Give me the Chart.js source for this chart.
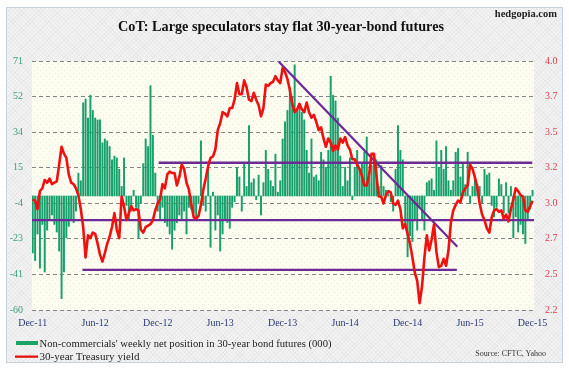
<!DOCTYPE html>
<html><head><meta charset="utf-8">
<script src="https://cdn.jsdelivr.net/npm/chart.js@4.4.0/dist/chart.umd.min.js"></script>
<style>
html,body{margin:0;padding:0;background:#fff;}
#wrap{position:relative;width:569px;height:370px;overflow:hidden;background:#fff;}
#frame{position:absolute;left:6px;top:7px;width:557px;height:356px;box-sizing:border-box;border:1px solid #c6d2de;
 background-color:#f3f3f3;
 background-image:repeating-linear-gradient(45deg,rgba(0,0,0,0.03) 0 1px,transparent 1px 3px),repeating-linear-gradient(-45deg,rgba(0,0,0,0.03) 0 1px,transparent 1px 3px);}
#c{position:absolute;left:0;top:0;}
#txt{position:absolute;left:0;top:0;}
#txt text{font-family:"Liberation Serif","Times New Roman",serif;}
</style></head><body>
<div id="wrap">
<div id="frame"></div>
<canvas id="c" width="569" height="370"></canvas>
<svg id="txt" width="569" height="370" xmlns="http://www.w3.org/2000/svg">
 <text x="281" y="31" text-anchor="middle" font-size="14" font-weight="bold" fill="#111" textLength="326" lengthAdjust="spacingAndGlyphs">CoT: Large speculators stay flat 30-year-bond futures</text>
 <text x="557" y="17" text-anchor="end" font-size="10.5" font-weight="bold" fill="#222">hedgopia.com</text>
 <rect x="16" y="341" width="22" height="4" fill="#1ca465"/>
 <text x="39.5" y="347" font-size="10.5" fill="#222" textLength="292" lengthAdjust="spacingAndGlyphs">Non-commercials' weekly net position in 30-year bond futures (000)</text>
 <rect x="15" y="355.5" width="23" height="2.3" fill="#e51010"/>
 <text x="39.5" y="359.5" font-size="10.5" fill="#222" textLength="100" lengthAdjust="spacingAndGlyphs">30-year Treasury yield</text>
 <text x="546" y="356" text-anchor="end" font-size="8" fill="#333">Source: CFTC, Yahoo</text>
</svg>
</div>
<script>
// X-axis tick labels (every 26 weeks)
const tickLabels = ['Dec-11','Jun-12','Dec-12','Jun-13','Dec-13','Jun-14','Dec-14','Jun-15','Dec-15'];
const weeksPerTick = 26;
// Left axis (net position, 000 contracts) tick labels, bottom to top
const leftTicks = [-60,-41,-23,-4,15,34,52,71];
// Right axis (yield, %) tick labels, bottom to top
const rightTicks = ['2.2','2.5','2.7','3.0','3.2','3.5','3.7','4.0'];

// Non-commercials' weekly net position in 30-year bond futures (000), weekly from Dec-11
const netPosition = [
 -30,-34,-20,-38,-15,-40,-18,-12,-10,-15,
 -19,-29,-54,-40,-22,-16,-12,-14,-8,12,
 8,49,51,41,53,45,41,40,40,28,
 30,29,26,19,21,20,14,5,20,-5,
 -12,-8,3,-6,-22,-4,17,30,26,58,
 32,12,-8,-12,-6,-14,-16,-20,-28,-18,
 -14,-10,-12,-8,-20,-6,-7,-9,-11,-4,
 29,-5,-8,14,-27,2,-18,-10,-29,-20,
 -12,-14,-17,-6,-3,15,10,-8,17,5,
 37,7,9,-2,11,-10,7,24,14,8,
 5,22,2,8,30,39,45,57,52,69,
 45,48,44,40,24,12,30,10,11,8,
 23,19,15,24,63,53,50,41,21,5,
 15,8,20,-2,15,24,14,17,23,31,
 10,16,17,19,5,16,5,3,1,-3,
 -8,14,37,24,19,-16,-32,-21,-24,-13,
 -18,-6,-13,-18,7,8,9,3,29,15,
 24,14,26,8,3,8,23,25,10,17,
 6,23,-4,5,10,6,5,-4,14,11,
 12,-5,-11,-6,9,6,-9,7,-9,5,
 -22,-11,-19,-15,-20,-25,-13,-7,3
];

// 30-year Treasury yield (%), weekly
const yields = [
 3.00,2.99,2.93,3.06,3.08,3.14,3.12,3.15,3.11,3.12,
 3.13,3.25,3.38,3.33,3.30,3.18,3.12,3.11,3.08,3.03,
 2.93,2.80,2.58,2.74,2.72,2.76,2.75,2.68,2.60,2.55,
 2.61,2.68,2.73,2.80,2.90,2.78,2.72,3.02,2.95,2.85,
 2.90,2.95,2.92,2.93,2.92,2.78,2.76,2.80,2.81,2.82,
 2.85,2.92,2.97,3.00,3.11,3.08,3.18,3.20,3.19,3.19,
 3.10,3.16,3.25,3.22,3.12,3.07,2.96,2.87,2.86,2.88,
 2.96,3.07,3.15,3.24,3.30,3.31,3.36,3.50,3.55,3.63,
 3.62,3.60,3.66,3.66,3.72,3.84,3.76,3.76,3.86,3.81,
 3.72,3.71,3.77,3.72,3.68,3.60,3.66,3.83,3.82,3.84,
 3.85,3.89,3.86,3.84,3.95,3.92,3.87,3.79,3.69,3.63,
 3.65,3.69,3.65,3.63,3.70,3.63,3.59,3.61,3.56,3.50,
 3.52,3.44,3.38,3.44,3.41,3.35,3.39,3.36,3.44,3.41,
 3.45,3.39,3.36,3.29,3.29,3.25,3.22,3.17,3.10,3.10,
 3.18,3.33,3.33,3.18,3.02,3.02,2.97,3.03,3.06,3.05,
 2.97,2.96,2.99,2.93,2.79,2.82,2.75,2.68,2.58,2.47,
 2.41,2.25,2.37,2.58,2.74,2.63,2.71,2.82,2.62,2.51,
 2.52,2.57,2.52,2.63,2.83,2.92,2.96,2.99,2.98,3.05,
 3.08,3.10,3.25,3.22,3.16,3.09,2.97,2.89,2.85,2.79,
 2.76,2.87,2.92,2.93,2.91,2.92,2.86,2.89,2.84,2.93,
 3.00,3.08,3.06,3.03,3.02,2.92,2.91,2.95,2.99
];

// Trend lines drawn on the chart (week index, yield)
const upperLevelWeeks = [52.4, 207.9];  const upperLevelYield = [3.265, 3.265];
const midLevelWeeks   = [-0.3, 208.6];  const midLevelYield   = [2.85, 2.85];
const lowerLevelWeeks = [20.7, 176.5];  const lowerLevelYield = [2.49, 2.49];
const downTrendWeeks  = [102.4, 176.7]; const downTrendYield  = [3.995, 2.657];

const PURPLE = '#6c2a96';
const toXY = (xs, ys) => xs.map((x,i)=>({x:x, y:ys[i]}));

function makePattern(ctx){
  const p=document.createElement('canvas'); p.width=6; p.height=6;
  const g=p.getContext('2d');
  g.fillStyle='#fcfcf1'; g.fillRect(0,0,6,6);
  g.fillStyle='#f0edc6'; g.fillRect(1,1,1,1); g.fillRect(4,4,1,1);
  return ctx.createPattern(p,'repeat');
}
const bgPlugin = { id:'plotbg', beforeDraw(c){
  const {ctx, chartArea:a} = c; ctx.save();
  ctx.fillStyle = makePattern(ctx);
  ctx.fillRect(a.left, a.top, a.right-a.left, a.bottom-a.top);
  ctx.restore(); } };

const serif = 'Liberation Serif';
const evenTicks = (min,max,n) => s => { s.ticks = Array.from({length:n},(_,k)=>({value: min + k*(max-min)/(n-1)})); };

new Chart(document.getElementById('c').getContext('2d'), {
  type:'bar',
  data:{ datasets:[
    {type:'line', label:'30-year Treasury yield', data: yields.map((v,i)=>({x:i,y:v})), yAxisID:'y1',
     borderColor:'#ef1010', borderWidth:2.6, pointRadius:0, tension:0, order:0, borderJoinStyle:'round'},
    {type:'line', data: toXY(upperLevelWeeks, upperLevelYield), yAxisID:'y1', borderColor:PURPLE, borderWidth:2.4, pointRadius:0, order:1},
    {type:'line', data: toXY(midLevelWeeks, midLevelYield), yAxisID:'y1', borderColor:PURPLE, borderWidth:2.4, pointRadius:0, order:1},
    {type:'line', data: toXY(lowerLevelWeeks, lowerLevelYield), yAxisID:'y1', borderColor:PURPLE, borderWidth:2.4, pointRadius:0, order:1},
    {type:'line', data: toXY(downTrendWeeks, downTrendYield), yAxisID:'y1', borderColor:PURPLE, borderWidth:2.2, pointRadius:0, order:1},
    {type:'bar', label:"Non-commercials' weekly net position", data: netPosition.map((v,i)=>({x:i,y:v})), yAxisID:'y',
     backgroundColor:'#17a06c', barThickness:1.3, order:3}
  ]},
  options:{
    responsive:false, animation:false, events:[],
    layout:{padding:{top:61,left:0,right:0,bottom:0}},
    plugins:{legend:{display:false}, tooltip:{enabled:false}, title:{display:false}},
    scales:{
      x:{type:'linear', min:-0.3, max:208.6, offset:false,
         grid:{display:false, drawTicks:false}, border:{display:false},
         afterBuildTicks: s => { s.ticks = tickLabels.map((t,k)=>({value:k*weeksPerTick})); },
         ticks:{autoSkip:false, maxRotation:0, padding:7, color:'#2b3a78', font:{family:serif, size:10},
                callback:(v,idx)=>tickLabels[idx]},
         afterFit: s => { s.height = 60; } },
      y:{position:'left', min:-60, max:71,
         grid:{color:'#858585', lineWidth:1, drawTicks:false}, border:{display:false, dash:[4,3]},
         afterBuildTicks: evenTicks(-60,71,leftTicks.length),
         ticks:{padding:9, color:'#3a9f7c', font:{family:serif, size:10}, callback:(v,idx)=>String(leftTicks[idx])},
         afterFit: s => { s.width = 32; } },
      y1:{position:'right', min:2.2, max:4.0,
         grid:{display:false, drawTicks:false}, border:{display:false},
         afterBuildTicks: evenTicks(2.2,4.0,rightTicks.length),
         ticks:{padding:11, color:'#dd3d4a', font:{family:serif, size:10}, callback:(v,idx)=>rightTicks[idx]},
         afterFit: s => { s.width = 35; } }
    }
  },
  plugins:[bgPlugin]
});
</script>
</body></html>
